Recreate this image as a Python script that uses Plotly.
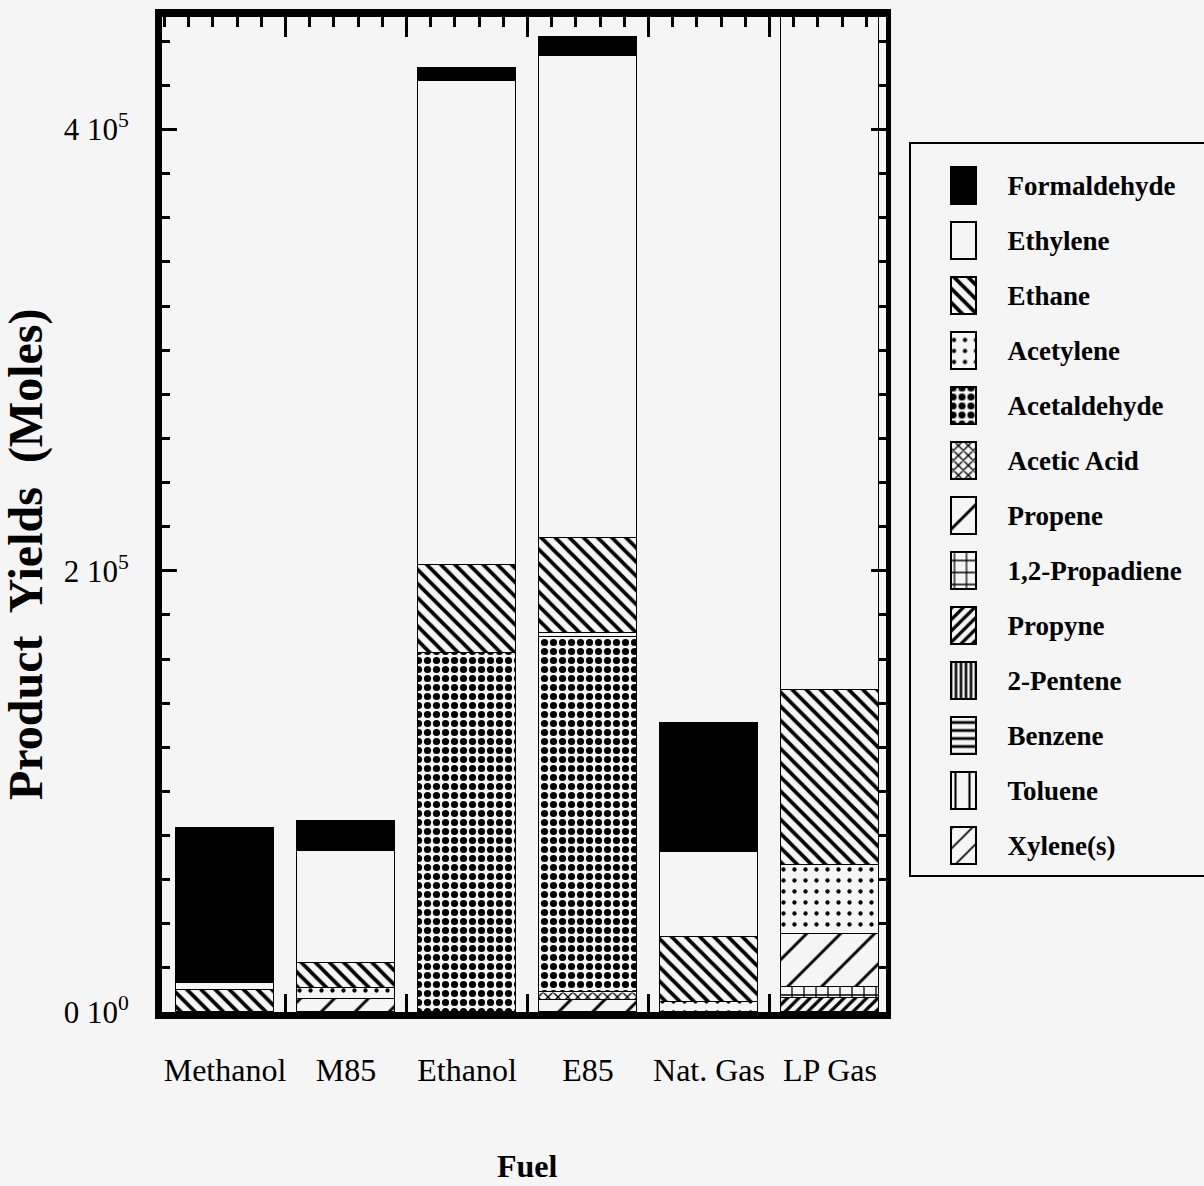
import plotly.graph_objects as go

# ---- data (moles of product per fuel) ----
fuels = ["Methanol", "M85", "Ethanol", "E85", "Nat. Gas", "LP Gas"]
species = ["Formaldehyde", "Ethylene", "Ethane", "Acetylene", "Acetaldehyde",
           "Acetic Acid", "Propene", "1,2-Propadiene", "Propyne", "2-Pentene",
           "Benzene", "Toluene", "Xylene(s)"]

formaldehyde = [70000, 13600, 5900, 8600, 58500, 0]
ethylene = [3200, 50800, 219500, 218600, 38500, 330000]
ethane = [10000, 11300, 39900, 43000, 29500, 79400]
acetylene = [0, 5000, 0, 1800, 4500, 31300]
acetaldehyde = [0, 0, 162800, 161000, 0, 0]
acetic_acid = [0, 0, 0, 3600, 0, 0]
propene = [0, 5900, 0, 5400, 0, 24000]
propadiene = [0, 0, 0, 0, 0, 5000]
propyne = [0, 0, 0, 0, 0, 6300]
pentene = [0, 0, 0, 0, 0, 0]
benzene = [0, 0, 0, 0, 0, 0]
toluene = [0, 0, 0, 0, 0, 0]
xylene = [0, 0, 0, 0, 0, 0]

yield_table = {
    "Formaldehyde": formaldehyde, "Ethylene": ethylene, "Ethane": ethane,
    "Acetylene": acetylene, "Acetaldehyde": acetaldehyde,
    "Acetic Acid": acetic_acid, "Propene": propene,
    "1,2-Propadiene": propadiene, "Propyne": propyne, "2-Pentene": pentene,
    "Benzene": benzene, "Toluene": toluene, "Xylene(s)": xylene,
}

y_tick_vals = [0, 200000, 400000]
y_tick_text = ["0 10<sup>0</sup>", "2 10<sup>5</sup>", "4 10<sup>5</sup>"]

# ---- styling ----
W, H = 1204, 1186
BG = "#f5f5f5"
SERIF = "Liberation Serif, Times New Roman, serif"

fill_styles = {
    "Formaldehyde": dict(color="black", shape="", size=8, solidity=0.3),
    "Ethylene": dict(color=BG, shape="", size=8, solidity=0.3),
    "Ethane": dict(color=BG, shape="\\", size=10, solidity=0.38),
    "Acetylene": dict(color=BG, shape=".", size=11, solidity=0.12),
    "Acetaldehyde": dict(color=BG, shape=".", size=9, solidity=0.5),
    "Acetic Acid": dict(color=BG, shape="x", size=7, solidity=0.35),
    "Propene": dict(color=BG, shape="/", size=24, solidity=0.12),
    "1,2-Propadiene": dict(color=BG, shape="+", size=12, solidity=0.2),
    "Propyne": dict(color=BG, shape="/", size=8, solidity=0.4),
    "2-Pentene": dict(color=BG, shape="|", size=5, solidity=0.5),
    "Benzene": dict(color=BG, shape="-", size=8, solidity=0.35),
    "Toluene": dict(color=BG, shape="|", size=14, solidity=0.15),
    "Xylene(s)": dict(color=BG, shape="/", size=14, solidity=0.12),
}


def marker_for(name, line_w):
    st = fill_styles[name]
    return dict(
        color=st["color"],
        line=dict(color="black", width=line_w),
        pattern=dict(shape=st["shape"], size=st["size"], solidity=st["solidity"],
                     fgcolor="black", bgcolor=st["color"], fillmode="replace"),
    )


def px_x(p):
    return p / W


def px_y(p):
    return 1 - p / H


# pixel geometry of the main frame
plot_left, plot_right, plot_top, plot_bottom = 162, 886, 17, 1012
centre0, step = 225.0, 121.0
x_range = [(plot_left - centre0) / step, (plot_right - centre0) / step]
y_range = [0, 451000]

fig = go.Figure()

x_pos = list(range(len(fuels)))
# stack from the bottom of the species list upward
for name in reversed(species):
    vals = [v if v else None for v in yield_table[name]]
    fig.add_trace(go.Bar(
        x=x_pos, y=vals, width=0.81, name=name,
        marker=marker_for(name, 1.5), showlegend=False,
    ))

# key swatches drawn as small bars on their own axes
for k, name in enumerate(species):
    fig.add_trace(go.Bar(
        x=[1], y=[k], base=0, orientation="h", width=0.67,
        xaxis="x3", yaxis="y3", marker=marker_for(name, 1.5),
        showlegend=False, hoverinfo="skip", cliponaxis=False,
    ))

# carrier trace for the mirrored top/right frame axes
fig.add_trace(go.Scatter(x=[], y=[], xaxis="x2", yaxis="y2",
                         showlegend=False, hoverinfo="skip"))

boundaries = [i + 0.5 for i in range(len(fuels) - 1)]

fig.update_layout(
    width=W, height=H,
    margin=dict(l=0, r=0, t=0, b=0),
    paper_bgcolor=BG, plot_bgcolor=BG,
    barmode="stack", bargap=0,
    showlegend=False,
    font=dict(family=SERIF, color="black"),
    xaxis=dict(
        domain=[px_x(plot_left), px_x(plot_right)], range=x_range,
        tickmode="array", tickvals=x_pos, ticktext=fuels, ticks="",
        tickfont=dict(size=32), ticklabelstandoff=24,
        showline=True, linewidth=7, linecolor="black",
        showgrid=False, zeroline=False, automargin=False,
        minor=dict(tickmode="array", tickvals=boundaries, ticks="inside",
                   ticklen=18, tickwidth=3, tickcolor="black", showgrid=False),
    ),
    yaxis=dict(
        domain=[px_y(plot_bottom), px_y(plot_top)], range=y_range,
        tickmode="array", tickvals=y_tick_vals, ticktext=y_tick_text,
        ticks="inside", ticklen=15, tickwidth=3, tickcolor="black",
        tickfont=dict(size=31), ticklabelstandoff=20,
        showline=True, linewidth=7, linecolor="black",
        showgrid=False, zeroline=False, automargin=False,
        minor=dict(dtick=20000, tick0=0, ticks="inside", ticklen=8,
                   tickwidth=3, tickcolor="black", showgrid=False),
    ),
    xaxis2=dict(
        overlaying="x", side="top", anchor="y2", range=x_range,
        tickmode="array", tickvals=boundaries, ticks="inside",
        ticklen=20, tickwidth=3, tickcolor="black", showticklabels=False,
        showline=True, linewidth=8, linecolor="black",
        showgrid=False, zeroline=False, automargin=False,
        minor=dict(dtick=0.2, tick0=0.5, ticks="inside", ticklen=10,
                   tickwidth=3, tickcolor="black", showgrid=False),
    ),
    yaxis2=dict(
        overlaying="y", side="right", anchor="x2", range=y_range,
        tickmode="array", tickvals=y_tick_vals, ticks="inside",
        ticklen=15, tickwidth=3, tickcolor="black", showticklabels=False,
        showline=True, linewidth=5, linecolor="black",
        showgrid=False, zeroline=False, automargin=False,
        minor=dict(dtick=20000, tick0=0, ticks="inside", ticklen=8,
                   tickwidth=3, tickcolor="black", showgrid=False),
    ),
    # key swatches span 0..1 (25 px); a little slack keeps their outlines whole
    xaxis3=dict(
        domain=[px_x(948.5), px_x(978.5)], range=[-0.1, 1.1], anchor="y3",
        visible=False, fixedrange=True,
    ),
    yaxis3=dict(
        domain=[px_y(873.5), px_y(158.5)], range=[len(species) - 0.5, -0.5],
        anchor="x3", side="right", tickmode="array",
        tickvals=list(range(len(species))), ticktext=species,
        ticks="", showline=False, showgrid=False, zeroline=False,
        tickfont=dict(size=27, family=SERIF, weight="bold"),
        ticklabelstandoff=28, automargin=False, fixedrange=True,
    ),
    shapes=[dict(type="rect", xref="paper", yref="paper",
                 x0=px_x(910), x1=1.02, y0=px_y(876), y1=px_y(143),
                 line=dict(color="black", width=2), layer="below")],
    annotations=[
        dict(text="<b>Product  Yields  (Moles)</b>", textangle=-90,
             x=px_x(26), y=px_y(555), xref="paper", yref="paper",
             xanchor="center", yanchor="middle", showarrow=False,
             font=dict(size=48, family=SERIF)),
        dict(text="<b>Fuel</b>", x=px_x(527), y=px_y(1166),
             xref="paper", yref="paper", xanchor="center", yanchor="middle",
             showarrow=False, font=dict(size=32, family=SERIF)),
    ],
)

fig.write_html("out.html")
